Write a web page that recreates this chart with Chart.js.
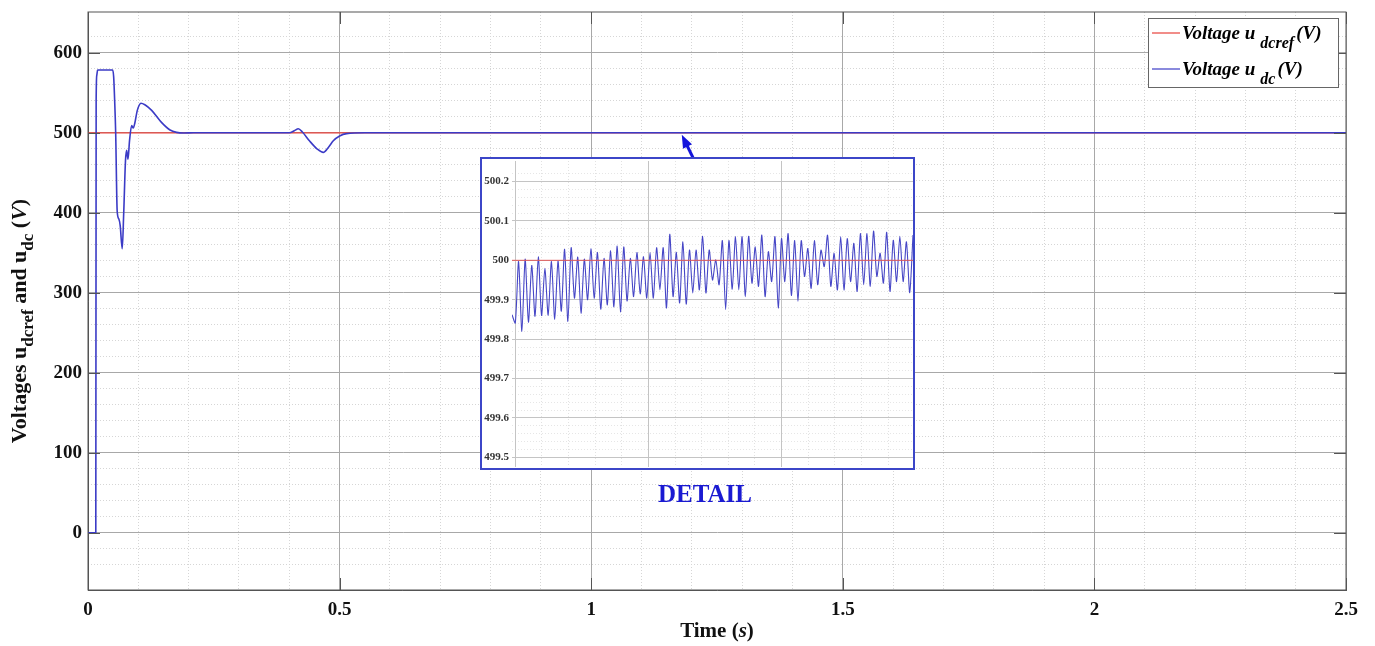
<!DOCTYPE html>
<html>
<head>
<meta charset="utf-8">
<script src="https://cdn.jsdelivr.net/npm/chart.js@4.4.1/dist/chart.umd.min.js"></script>
<style>
  html, body { margin: 0; padding: 0; background: #fff; }
  #wrap { position: relative; width: 1375px; height: 646px; overflow: hidden; }
  #main { position: absolute; left: 0; top: 0; }
  #insetBox { position: absolute; left: 480px; top: 157px; width: 431px; height: 309px;
              border: 2px solid #3c46c8; background: #fff; }
  #inset { display: block; }
  #detail { position: absolute; left: 600px; top: 480px; width: 210px; text-align: center;
            font: bold 25px "Liberation Serif", serif; color: #1a1ad2; }
</style>
</head>
<body>
<div id="wrap">
  <canvas id="main" width="1375" height="646"></canvas>
  <div id="insetBox"><canvas id="inset" width="431" height="309"></canvas></div>
  <div id="detail">DETAIL</div>
</div>
<script>
// main plot: u_dc (blue) and its reference (red)
const udcTime = [0, 0.0155, 0.0162, 0.0175, 0.019, 0.049, 0.051, 0.053, 0.055, 0.058, 0.0615, 0.064, 0.068,
  0.071, 0.0745, 0.0768, 0.0795, 0.0825, 0.0868, 0.090, 0.093, 0.098, 0.1053, 0.113, 0.1265, 0.146, 0.163,
  0.176, 0.19, 0.21, 0.40, 0.41, 0.418, 0.426, 0.44, 0.455, 0.4676, 0.478, 0.4875, 0.50, 0.514, 0.55, 2.5]
const udcValue = [0, 0, 540, 572, 578.5, 578.5, 570, 540, 500, 402, 392, 384, 355,
  400, 465, 478, 467, 490, 509, 506, 512, 528, 537, 535, 528, 513, 503.5,
  500.5, 499.7, 500, 500, 502.5, 505, 501, 490, 480, 475.5, 482, 490, 496, 499, 500, 500]
const refTime = [0, 2.5]
const refValue = [500, 500]

const xTickLabels = [0, 0.5, 1, 1.5, 2, 2.5]
const yTickLabels = [0, 100, 200, 300, 400, 500, 600]

// detail window: successive troughs / peaks of u_dc
const insetValue = [499.862, 499.841, 499.997, 499.820, 500.003, 499.843, 499.987, 499.858, 500.009, 499.860,
  499.980, 499.861, 499.997, 499.850, 499.998, 499.871, 500.028, 499.845, 500.032, 499.904,
  500.008, 499.866, 500.003, 499.900, 500.029, 499.904, 500.020, 499.876, 500.005, 499.887,
  500.024, 499.882, 500.036, 499.869, 500.034, 499.897, 500.005, 499.908, 500.020, 499.915,
  500.009, 499.904, 500.020, 499.904, 500.032, 499.925, 500.032, 499.879, 500.066, 499.908,
  500.020, 499.892, 500.047, 499.889, 500.026, 499.917, 500.026, 499.925, 500.061, 499.917,
  500.026, 499.950, 500.001, 499.938, 500.050, 499.875, 500.050, 499.927, 500.060, 499.925,
  500.060, 499.908, 500.061, 499.942, 500.034, 499.934, 500.064, 499.908, 500.022, 499.946,
  500.060, 499.879, 500.055, 499.946, 500.068, 499.911, 500.050, 499.896, 500.050, 499.959,
  500.030, 499.929, 500.050, 499.938, 500.026, 499.984, 500.064, 499.934, 500.018, 499.925,
  500.060, 499.925, 500.055, 499.946, 500.043, 499.921, 500.068, 499.938, 500.068, 499.934,
  500.074, 499.959, 500.018, 499.942, 500.071, 499.921, 500.051, 499.946, 500.061, 499.946,
  500.047, 499.918, 500.064]
const insetYTicks = [499.5, 499.6, 499.7, 499.8, 499.9, 500, 500.1, 500.2]

const BLUE = '#3b3bc6'
const RED = '#e8403a'
Chart.defaults.font.family = "'Liberation Serif', 'Times New Roman', serif"
Chart.defaults.color = '#111'

function isMajor(v, step) {
    return Math.abs(v / step - Math.round(v / step)) < 1e-6
}
// no extra room for half tick labels: plot area set by layout padding only
function noPad(s) {
    s.paddingTop = 0; s.paddingBottom = 0; s.paddingLeft = 0; s.paddingRight = 0
}

// text with sub/italic parts on one baseline
function drawRich(ctx, x, y, parts) {
    let cx = x
    for (const p of parts) {
        ctx.font = p.font
        ctx.fillText(p.text, cx, y + (p.dy || 0))
        cx += ctx.measureText(p.text).width + (p.gap || 0)
    }
    return cx - x
}
function richWidth(ctx, parts) {
    let w = 0
    for (const p of parts) {
        ctx.font = p.font
        w += ctx.measureText(p.text).width + (p.gap || 0)
    }
    return w
}

const F = "'Liberation Serif', serif"
const decor = {
    id: 'decor',
    afterDraw(chart) {
        const { ctx, chartArea: a, scales } = chart
        const x = scales.x, y = scales.y
        ctx.save()
        // frame + inward ticks
        ctx.strokeStyle = '#555'
        ctx.lineWidth = 1
        ctx.strokeRect(a.left, a.top, a.right - a.left, a.bottom - a.top)
        ctx.beginPath()
        for (const v of xTickLabels) {
            const px = Math.round(x.getPixelForValue(v)) + 0.5
            ctx.moveTo(px, a.bottom); ctx.lineTo(px, a.bottom - 12)
            ctx.moveTo(px, a.top); ctx.lineTo(px, a.top + 12)
        }
        for (const v of yTickLabels) {
            const py = Math.round(y.getPixelForValue(v)) + 0.5
            ctx.moveTo(a.left, py); ctx.lineTo(a.left + 12, py)
            ctx.moveTo(a.right, py); ctx.lineTo(a.right - 12, py)
        }
        ctx.stroke()

        // arrow from the detail box to the line
        const tx = x.getPixelForValue(1.18), ty = y.getPixelForValue(500) + 2
        const sx = x.getPixelForValue(1.203), sy = y.getPixelForValue(468)
        const ang = Math.atan2(ty - sy, tx - sx)
        ctx.strokeStyle = '#1414dc'
        ctx.fillStyle = '#1414dc'
        ctx.lineWidth = 3
        ctx.beginPath()
        ctx.moveTo(sx, sy)
        ctx.lineTo(tx - 10 * Math.cos(ang), ty - 10 * Math.sin(ang))
        ctx.stroke()
        ctx.beginPath()
        ctx.moveTo(tx, ty)
        ctx.lineTo(tx - 13 * Math.cos(ang) + 5 * Math.sin(ang), ty - 13 * Math.sin(ang) - 5 * Math.cos(ang))
        ctx.lineTo(tx - 13 * Math.cos(ang) - 5 * Math.sin(ang), ty - 13 * Math.sin(ang) + 5 * Math.cos(ang))
        ctx.closePath()
        ctx.fill()

        // legend
        const lw = 190, lh = 69
        const lx = a.right - 8 - lw, ly = a.top + 6
        ctx.fillStyle = '#fff'
        ctx.fillRect(lx, ly, lw, lh)
        ctx.strokeStyle = '#666'
        ctx.lineWidth = 1
        ctx.strokeRect(lx + 0.5, ly + 0.5, lw, lh)
        const entries = [
            { color: RED, sub: 'dcref', row: 15 },
            { color: BLUE, sub: 'dc', row: 51 }
        ]
        ctx.textBaseline = 'alphabetic'
        ctx.textAlign = 'left'
        for (const e of entries) {
            ctx.strokeStyle = e.color
            ctx.lineWidth = 1.2
            ctx.beginPath()
            ctx.moveTo(lx + 4, ly + e.row); ctx.lineTo(lx + 32, ly + e.row)
            ctx.stroke()
            ctx.fillStyle = '#000'
            drawRich(ctx, lx + 34, ly + e.row + 6, [
                { text: 'Voltage u', font: 'bold italic 19px ' + F, gap: 5 },
                { text: e.sub, font: 'bold italic 16px ' + F, dy: 9, gap: 2 },
                { text: '(V)', font: 'bold italic 19px ' + F }
            ])
        }

        // axis titles
        ctx.fillStyle = '#111'
        ctx.textBaseline = 'middle'
        const xt = [
            { text: 'Time (', font: 'bold 21px ' + F },
            { text: 's', font: 'bold italic 21px ' + F },
            { text: ')', font: 'bold 21px ' + F }
        ]
        const cxm = (a.left + a.right) / 2
        drawRich(ctx, cxm - richWidth(ctx, xt) / 2, 632, xt)

        const yt = [
            { text: 'Voltages u', font: 'bold 22px ' + F },
            { text: 'dcref', font: 'bold 17px ' + F, dy: 9 },
            { text: ' and u', font: 'bold 22px ' + F },
            { text: 'dc', font: 'bold 17px ' + F, dy: 9 },
            { text: ' (', font: 'bold 22px ' + F },
            { text: 'V', font: 'bold italic 22px ' + F },
            { text: ')', font: 'bold 22px ' + F }
        ]
        ctx.translate(20, 321)
        ctx.rotate(-Math.PI / 2)
        drawRich(ctx, -richWidth(ctx, yt) / 2, 0, yt)
        ctx.restore()
    }
}

const tickFont = { size: 19, weight: 'bold' }
new Chart(document.getElementById('main'), {
    type: 'line',
    data: {
        datasets: [
            {
                label: 'Voltage udc (V)',
                data: udcTime.map((t, i) => ({ x: t, y: udcValue[i] })),
                borderColor: BLUE, borderWidth: 1.6, pointRadius: 0,
                cubicInterpolationMode: 'monotone', order: 0
            },
            {
                label: 'Voltage udcref (V)',
                data: refTime.map((t, i) => ({ x: t, y: refValue[i] })),
                borderColor: RED, borderWidth: 1.3, pointRadius: 0, order: 1
            }
        ]
    },
    options: {
        responsive: false,
        animation: false,
        layout: { padding: { top: 12, right: 29, left: 0, bottom: 0 } },
        plugins: { legend: { display: false }, tooltip: { enabled: false } },
        scales: {
            xMinor: {
                type: 'linear', axis: 'x', position: 'bottom', min: 0, max: 2.5,
                ticks: { display: false, stepSize: 0.1 },
                afterBuildTicks: s => { s.ticks = s.ticks.filter(t => !isMajor(t.value, 0.5)) },
                afterFit: s => { s.height = 0; noPad(s) },
                grid: { color: '#d6d6d6', drawTicks: false },
                border: { display: false, dash: [1, 2] }
            },
            yMinor: {
                type: 'linear', axis: 'y', position: 'left', min: -71.5, max: 651,
                ticks: { display: false, stepSize: 20 },
                afterBuildTicks: s => {
                    s.ticks = s.ticks.filter(t => t.value > -71 && t.value < 650 && !isMajor(t.value, 100))
                },
                afterFit: s => { s.width = 0; noPad(s) },
                grid: { color: '#d6d6d6', drawTicks: false },
                border: { display: false, dash: [1, 2] }
            },
            x: {
                type: 'linear', position: 'bottom', min: 0, max: 2.5,
                afterBuildTicks: s => { s.ticks = xTickLabels.map(v => ({ value: v })) },
                afterFit: s => { s.height = 56; noPad(s) },
                ticks: { font: tickFont, color: '#111', padding: 9, maxRotation: 0, autoSkip: false,
                         callback: v => String(v) },
                grid: { color: '#a8a8a8', drawTicks: false },
                border: { color: '#555' }
            },
            y: {
                type: 'linear', position: 'left', min: -71.5, max: 651,
                afterBuildTicks: s => { s.ticks = yTickLabels.map(v => ({ value: v })) },
                afterFit: s => { s.width = 88; noPad(s) },
                ticks: { font: tickFont, color: '#111', padding: 6, callback: v => String(v) },
                grid: { color: '#a8a8a8', drawTicks: false },
                border: { color: '#555' }
            }
        }
    },
    plugins: [decor]
})

// inset (DETAIL)
const insetN = insetValue.length - 1
new Chart(document.getElementById('inset'), {
    type: 'line',
    data: {
        datasets: [
            {
                data: insetValue.map((v, i) => ({ x: i, y: v })),
                borderColor: '#4646c6', borderWidth: 1.1, pointRadius: 0, tension: 0.25, order: 1
            },
            {
                data: [{ x: 0, y: 500 }, { x: insetN, y: 500 }],
                borderColor: '#e25a5a', borderWidth: 1, pointRadius: 0, order: 0
            }
        ]
    },
    options: {
        responsive: false,
        animation: false,
        layout: { padding: { top: 2, right: 0, left: 0, bottom: 1 } },
        plugins: { legend: { display: false }, tooltip: { enabled: false } },
        scales: {
            xMinor: {
                type: 'linear', axis: 'x', position: 'bottom', min: 0, max: insetN,
                ticks: { display: false },
                afterBuildTicks: s => {
                    const out = []
                    for (let v = 1; v < insetN; v += 8.1) if (!isMajor(v - 1, 40.5)) out.push({ value: v })
                    s.ticks = out
                },
                afterFit: s => { s.height = 0; noPad(s) },
                grid: { color: '#e2e2e2', drawTicks: false },
                border: { display: false, dash: [1, 2] }
            },
            yMinor: {
                type: 'linear', axis: 'y', position: 'left', min: 499.4756, max: 500.252,
                ticks: { display: false, stepSize: 0.02 },
                afterBuildTicks: s => {
                    s.ticks = s.ticks.filter(t => t.value > 499.48 && t.value < 500.25 && !isMajor(t.value, 0.1))
                },
                afterFit: s => { s.width = 0; noPad(s) },
                grid: { color: '#e6e6e6', drawTicks: false },
                border: { display: false, dash: [1, 2] }
            },
            x: {
                type: 'linear', position: 'bottom', min: 0, max: insetN,
                afterBuildTicks: s => { s.ticks = [1, 41.5, 82].map(v => ({ value: v })) },
                afterFit: s => { s.height = 0; noPad(s) },
                ticks: { display: false },
                grid: { color: '#c4c4c4', drawTicks: false },
                border: { display: false }
            },
            y: {
                type: 'linear', position: 'left', min: 499.4756, max: 500.252,
                afterBuildTicks: s => { s.ticks = insetYTicks.map(v => ({ value: v })) },
                afterFit: s => { s.width = 30; noPad(s) },
                ticks: { font: { size: 11, weight: 'bold' }, color: '#333', padding: 3, callback: v => String(v) },
                grid: { color: '#c4c4c4', drawTicks: false },
                border: { display: false }
            }
        }
    }
})
</script>
</body>
</html>
